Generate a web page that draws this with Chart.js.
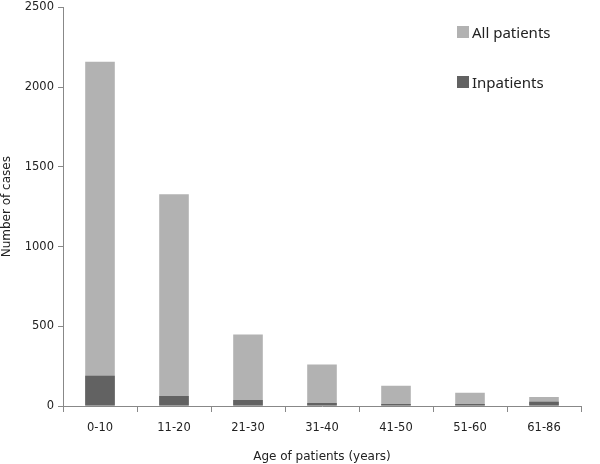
<!DOCTYPE html>
<html>
<head>
<meta charset="utf-8">
<script src="https://cdn.jsdelivr.net/npm/chart.js"></script>
<style>
  body { margin: 0; background: #fff; }
  #wrap { position: relative; width: 600px; height: 464px; }
  #legend { position: absolute; left: 457px; top: 20px; font-family: "Noto Sans", sans-serif; font-size: 15px; color: #222; }
  #legend div { display: flex; align-items: center; height: 24px; margin-bottom: 26px; }
  #legend span.sw { display: inline-block; width: 12px; height: 12px; margin-right: 3px; }
</style>
</head>
<body>
<div id="wrap">
  <canvas id="ages" width="600" height="464"></canvas>
  <div id="legend">
    <div><span class="sw" style="background:#b2b2b2"></span>All patients</div>
    <div><span class="sw" style="background:#626262"></span>Inpatients</div>
  </div>
</div>
<script>
const ageGroups = ["0-10", "11-20", "21-30", "31-40", "41-50", "51-60", "61-86"];
const allPatients = [2160, 1329, 448, 260, 127, 83, 56];
const inpatients = [189, 62, 37, 19, 12, 12, 27];
const yTicks = [0, 500, 1000, 1500, 2000, 2500];

const tickFont = { family: "DejaVu Sans", size: 11.5 };
const titleFont = { family: "DejaVu Sans", size: 12 };

new Chart(document.getElementById("ages"), {
  type: "bar",
  data: {
    labels: ageGroups,
    datasets: [
      { label: "Inpatients", data: inpatients, backgroundColor: "#626262", order: 0 },
      { label: "All patients", data: allPatients, backgroundColor: "#b2b2b2", order: 1 }
    ]
  },
  options: {
    responsive: false,
    animation: false,
    grouped: false,
    barPercentage: 0.4,
    categoryPercentage: 1,
    layout: { padding: { top: 0, right: 19, left: 0, bottom: 0 } },
    plugins: { legend: { display: false }, tooltip: { enabled: false } },
    scales: {
      x: {
        offset: true,
        grid: { offset: true, drawOnChartArea: false, drawTicks: true, tickLength: 6, color: "#888" },
        border: { color: "#888" },
        ticks: { font: tickFont, color: "#222", padding: 9 },
        title: { display: true, text: "Age of patients (years)", font: titleFont, color: "#222", padding: { top: 10, bottom: 0 } },
        afterFit: (s) => { s.height = 58; }
      },
      y: {
        min: 0,
        max: 2500,
        afterBuildTicks: (s) => { s.ticks = yTicks.map(v => ({ value: v })); },
        grid: { drawOnChartArea: false, drawTicks: true, tickLength: 5, color: "#888" },
        border: { color: "#888" },
        ticks: { font: { family: "DejaVu Sans", size: 11.5, lineHeight: 0.6 }, color: "#222", padding: 4, callback: (v) => String(v) },
        title: { display: true, text: "Number of cases", font: titleFont, color: "#222", padding: 0 },
        afterFit: (s) => { s.width = 63; }
      }
    }
  }
});
</script>
</body>
</html>
